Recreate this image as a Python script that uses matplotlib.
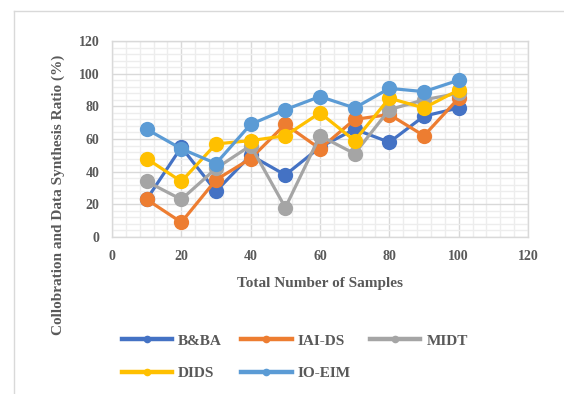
import matplotlib
matplotlib.use("Agg")
import matplotlib.pyplot as plt
from matplotlib.lines import Line2D
from matplotlib.ticker import MultipleLocator

samples = [10, 20, 30, 40, 50, 60, 70, 80, 90, 100]
bba = [23, 55, 28, 50, 38, 55, 66, 58, 74, 79]
iaids = [23, 9, 35, 48, 69, 54, 72, 75, 62, 85]
midt = [34, 23, 42, 56, 18, 62, 51, 78, 84, 88]
dids = [48, 34, 57, 59, 62, 76, 59, 85, 79, 90]
ioeim = [66, 54, 45, 69, 78, 86, 79, 91, 89, 96]

series_names = ["B&BA", "IAI-DS", "MIDT", "DIDS", "IO-EIM"]
series_values = [bba, iaids, midt, dids, ioeim]
colors = ["#4472C4", "#ED7D31", "#A5A5A5", "#FFC000", "#5B9BD5"]

xticks = [0, 20, 40, 60, 80, 100, 120]
yticks = [0, 20, 40, 60, 80, 100, 120]

txt = "#595959"
font = ["Liberation Serif", "DejaVu Serif"]

fig = plt.figure(figsize=(5.64, 3.94), dpi=100)
ax = fig.add_axes([112/564, 157/394, 416/564, 196/394])

handles = {}
for name, vals, c in zip(series_names, series_values, colors):
    h, = ax.plot(samples, vals, color=c, lw=2.3, marker="o", markersize=11,
                 markeredgewidth=0, label=name, clip_on=False)
    handles[name] = h

ax.set_xlim(0, 120)
ax.set_ylim(0, 120)
ax.set_xticks(xticks)
ax.set_yticks(yticks)
ax.xaxis.set_minor_locator(MultipleLocator(4))
ax.yaxis.set_minor_locator(MultipleLocator(4))
ax.grid(which="major", color="#D9D9D9", lw=1.0)
ax.grid(which="minor", color="#EDEDED", lw=1.0)
ax.set_axisbelow(True)
ax.tick_params(which="both", length=0)
ax.tick_params(axis="x", pad=9)
ax.tick_params(axis="y", pad=9)
for sp in ax.spines.values():
    sp.set_color("#D9D9D9")
    sp.set_linewidth(1.0)

for lab in ax.get_xticklabels() + ax.get_yticklabels():
    lab.set_fontfamily(font)
    lab.set_fontweight("bold")
    lab.set_fontsize(10)
    lab.set_color(txt)

ax.set_xlabel("Total Number of Samples", family=font, fontweight="bold",
              fontsize=11, color=txt)
ax.xaxis.set_label_coords(0.5, -(283 - 237) / 196, transform=ax.transAxes)
ax.xaxis.label.set_verticalalignment("center")
ax.set_ylabel("Collobration and Data Synthesis Ratio (%)", family=font,
              fontweight="bold", fontsize=11, color=txt)
ax.yaxis.set_label_coords((58 - 112) / 416, (237 - 195) / 196, transform=ax.transAxes)
ax.yaxis.label.set_verticalalignment("center")

order = ["B&BA", "DIDS", "IAI-DS", "IO-EIM", "MIDT"]
leg = fig.legend([handles[n] for n in order], order, ncol=3,
                 loc="center left", bbox_to_anchor=(108/564, 1 - 357/394),
                 frameon=False, handlelength=3.3, columnspacing=1.25,
                 labelspacing=1.2, handletextpad=0.4,
                 prop={"family": font, "weight": "bold", "size": 11})
for t in leg.get_texts():
    t.set_color(txt)
for lh in leg.legend_handles:
    lh.set_markersize(5.5)
    lh.set_linewidth(3.2)

# outer frame
fx = 14/564
fy = 1 - 11/394
fig.add_artist(Line2D([fx, 1], [fy, fy], transform=fig.transFigure, color="#D9D9D9", lw=1))
fig.add_artist(Line2D([fx, fx], [0, fy], transform=fig.transFigure, color="#D9D9D9", lw=1))

fig.savefig("out.png", dpi=100)
